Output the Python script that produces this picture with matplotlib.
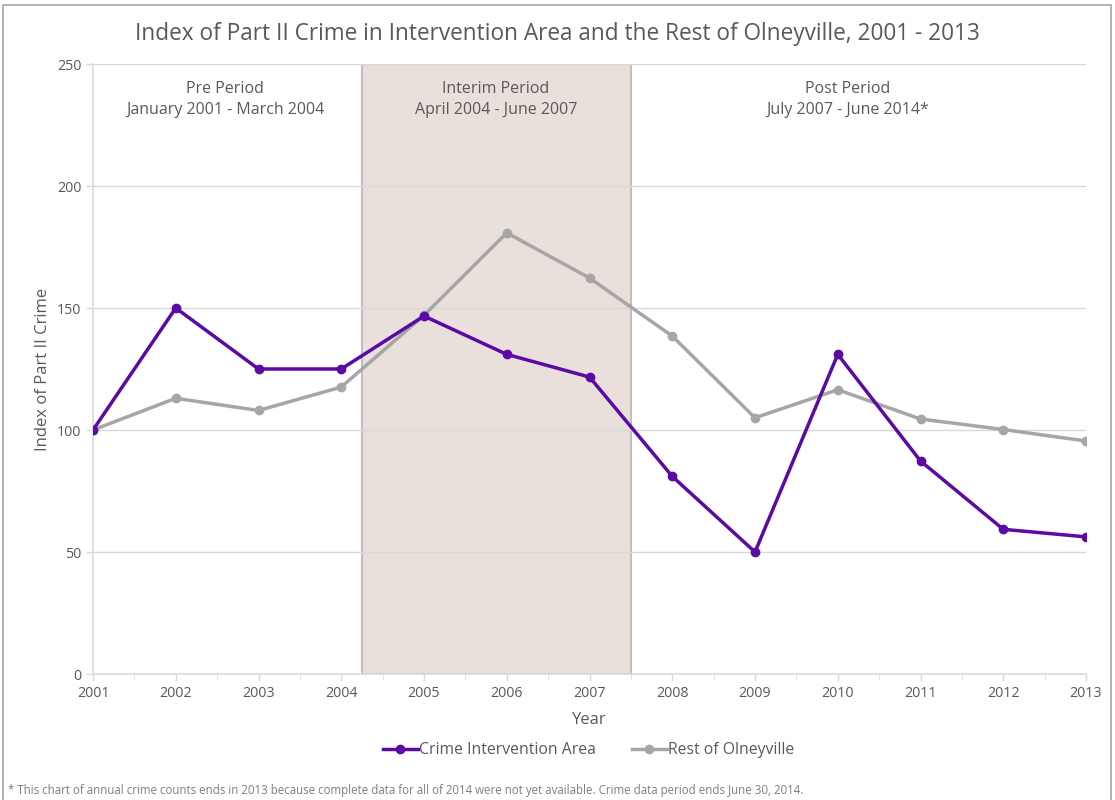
import matplotlib
matplotlib.use('Agg')
import matplotlib.pyplot as plt
from matplotlib.patches import Rectangle
from matplotlib.ticker import MultipleLocator

years = [2001, 2002, 2003, 2004, 2005, 2006, 2007, 2008, 2009, 2010, 2011, 2012, 2013]
intervention = [100, 150, 125, 125, 146.7, 131, 121.7, 81, 50, 131, 87.3, 59.3, 56.2]
rest = [100, 113, 108, 117.6, 147, 180.8, 162.3, 138.5, 105, 116.5, 104.5, 100.2, 95.5]

interim_start = 2004.25
interim_end = 2007.5

periods = [
    (2002.6, "Pre Period\nJanuary 2001 - March 2004"),
    (2005.87, "Interim Period\nApril 2004 - June 2007"),
    (2010.12, "Post Period\nJuly 2007 - June 2014*"),
]

plt.rcParams['font.family'] = ['Open Sans', 'DejaVu Sans']
text_col = '#595959'
grid_col = '#d9d9d9'

fig = plt.figure(figsize=(11.15, 8), dpi=100)
ax = fig.add_axes([93 / 1115, 1 - 674 / 800, (1086 - 93) / 1115, (674 - 64) / 800])

ax.axvspan(interim_start, interim_end, facecolor='#e9dfdb', edgecolor='#bfbfbf', linewidth=1.5, zorder=0)

ax.plot(years, rest, color='#a6a6a6', linewidth=2.5, marker='o', markersize=6, label='Rest of Olneyville', zorder=3)
ax.plot(years, intervention, color='#5b0aa5', linewidth=2.5, marker='o', markersize=6, label='Crime Intervention Area', zorder=4)

ax.set_xlim(2001, 2013)
ax.set_ylim(0, 250)
ax.yaxis.set_major_locator(MultipleLocator(50))
ax.set_xticks(years)
ax.xaxis.set_minor_locator(MultipleLocator(0.5))
ax.grid(axis='y', color=grid_col, linewidth=1)
ax.set_axisbelow(True)

for s in ['top', 'right']:
    ax.spines[s].set_visible(False)
for s in ['left', 'bottom']:
    ax.spines[s].set_color(grid_col)
    ax.spines[s].set_linewidth(1.2)

ax.tick_params(axis='both', colors=grid_col, labelcolor=text_col, labelsize=10.3, length=5, width=1)
ax.tick_params(axis='x', which='minor', colors=grid_col, length=4)

for x, txt in periods:
    ax.text(x, 243, txt, ha='center', va='top', fontsize=11.5, color=text_col, linespacing=1.45)

ax.set_xlabel('Year', fontsize=12, color=text_col, labelpad=8)
ax.set_ylabel('Index of Part II Crime', fontsize=12, color=text_col, labelpad=4)

fig.text(0.5, 0.957, 'Index of Part II Crime in Intervention Area and the Rest of Olneyville, 2001 - 2013',
         ha='center', va='center', fontsize=16.3, color=text_col)

handles, labels = ax.get_legend_handles_labels()
fig.legend(handles[::-1], labels[::-1], loc='center', bbox_to_anchor=(0.528, 0.0625), ncol=2, frameon=False,
           fontsize=11.3, labelcolor=text_col, handlelength=2.2, handletextpad=0.1, columnspacing=2.3)

fig.text(0.007, 0.012, '* This chart of annual crime counts ends in 2013 because complete data for all of 2014 were not yet available. Crime data period ends June 30, 2014.',
         ha='left', va='center', fontsize=8.3, color='#7f7f7f')

fig.patches.append(Rectangle((0.003, -0.01), 0.993, 1.004, transform=fig.transFigure, fill=False,
                             edgecolor='#a6a6a6', linewidth=1.2))

fig.savefig('out.png', dpi=100)
